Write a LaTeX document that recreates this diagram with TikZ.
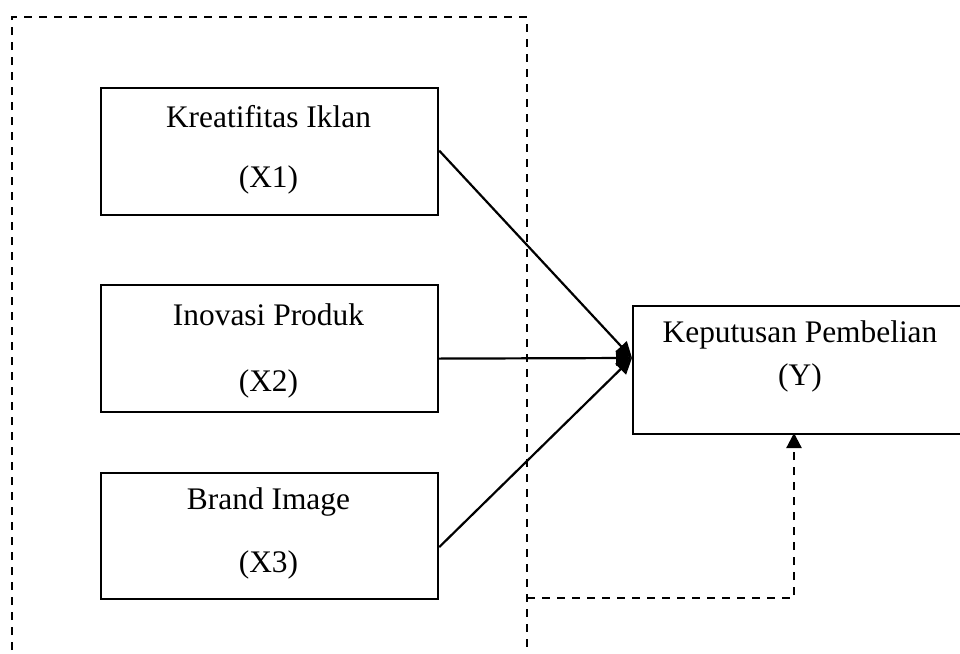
\documentclass[tikz,border=0pt]{standalone}
\usepackage{fontspec}
\setmainfont{Liberation Serif}
\usetikzlibrary{arrows.meta,calc}
\begin{document}
\begin{tikzpicture}[x=1pt,y=-1pt,
  box/.style={draw,line width=2.2pt,minimum width=337pt,minimum height=127pt,inner sep=0pt,anchor=north west},
  lbl/.style={font=\fontsize{31.4}{36}\selectfont,inner sep=0pt},
  conn/.style={line width=2.2pt,-{Triangle[length=16pt,width=15pt]}},
  dsh/.style={line width=2.2pt,dash pattern=on 8pt off 7pt}]
\useasboundingbox (0,0) rectangle (960,653);
\clip (0,0) rectangle (960,653);
% dashed frame
\draw[dsh] (12,680) -- (12,17) -- (527,17) -- (527,680);
% boxes
\node[box] (x1) at (100,87) {};
\node[box] (x2) at (100,284) {};
\node[box,minimum height=126pt] (x3) at (100,472) {};
\node[box,minimum width=360pt,minimum height=128pt] (y) at (632,305) {};
% labels
\node[lbl] (t1a) at (268.5,117) {Kreatifitas Iklan};
\node[lbl] (t1b) at (268.5,180) {(X1)};
\node[lbl] (t2a) at (268.5,315) {Inovasi Produk};
\node[lbl] (t2b) at (268.5,384) {(X2)};
\node[lbl] (t3a) at (268.5,502) {Brand Image};
\node[lbl] (t3b) at (268.5,565) {(X3)};
\node[lbl] (tya) at (800,335) {Keputusan Pembelian};
\node[lbl] (tyb) at (800,378) {(Y)};
% connectors
\coordinate (tip) at ($(y.north west)+(0,53)$);
\coordinate (s1) at ($(x1.east)+(0,-1)$);
\coordinate (s2) at ($(x2.east)+(0,10)$);
\coordinate (s3) at ($(x3.east)+(0,11)$);
\draw[conn] (s1) -- (tip);
\draw[conn] (s2) -- (tip);
\draw[conn] (s3) -- (tip);
% feedback dashed
\coordinate (f0) at (527,598);
\coordinate (f1) at (794,598);
\coordinate (fy) at (794,433);
\draw[dsh] (f0) -- (f1) -- ($(fy)+(0,12)$);
\draw[line width=2.2pt,-{Triangle[length=15pt,width=15pt]}] ($(fy)+(0,14)$) -- (fy);
\end{tikzpicture}
\end{document}
